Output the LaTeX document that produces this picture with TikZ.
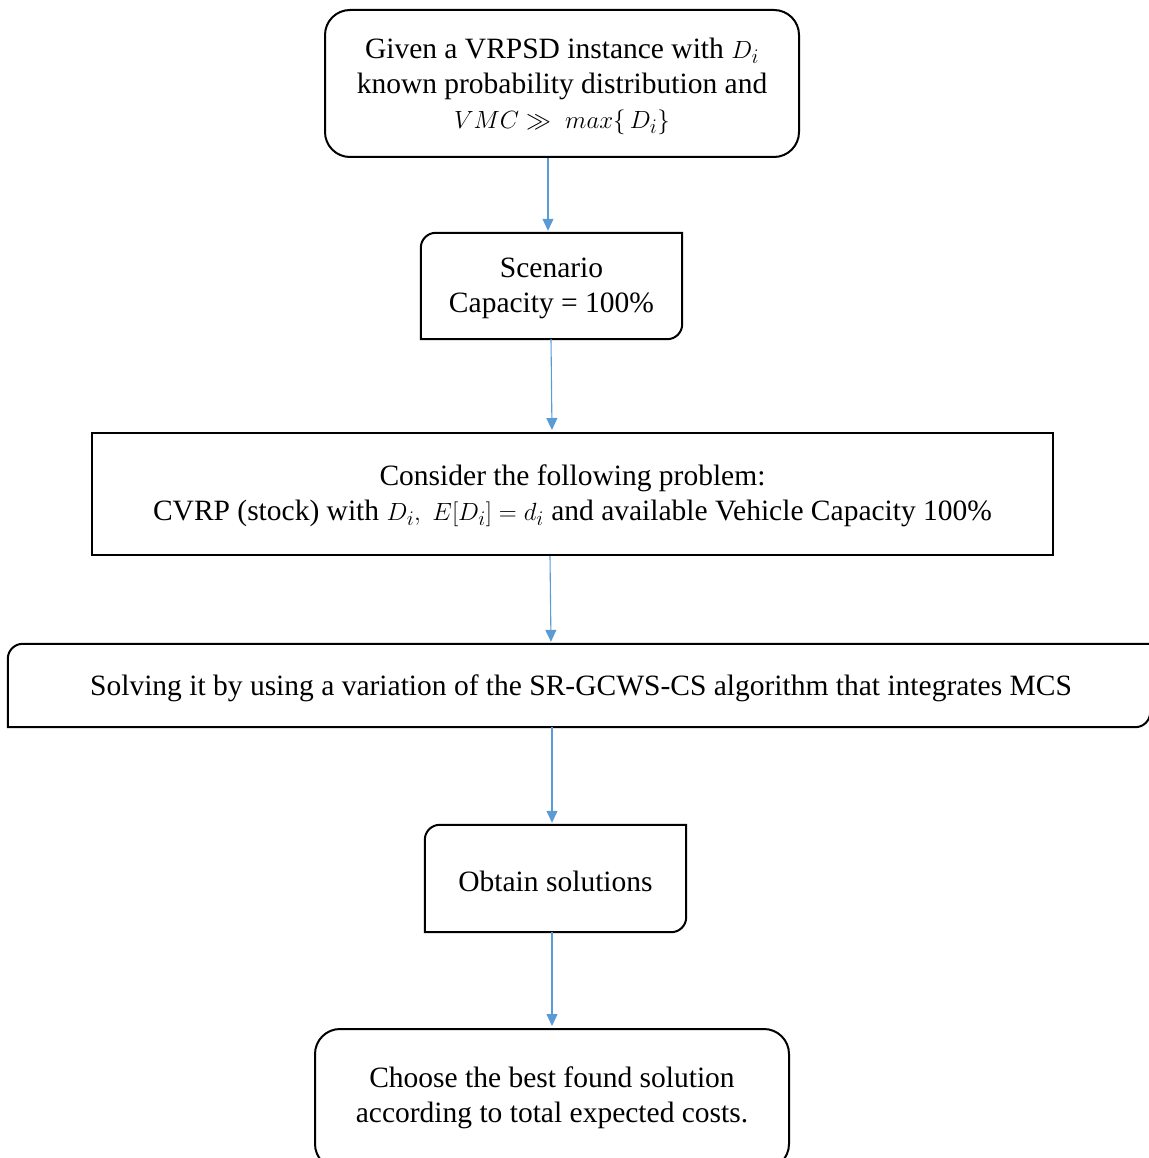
\documentclass[tikz,border=0pt]{standalone}
\usepackage{fontspec}
\setmainfont{Liberation Serif}
\usetikzlibrary{arrows.meta}
\definecolor{flowblue}{HTML}{5B9BD5}

% corner radii
\newcommand{\bigR}{25pt}

\tikzset{
  flowtext/.style={inner sep=0pt, align=center, draw=none,
    font=\fontsize{29.5}{35}\selectfont},
  boxline/.style={line width=2pt, black},
  flowarrow/.style={flowblue, line width=1.1pt,
    -{Triangle[length=12pt,width=11pt]}, shorten >=2pt},
}

% box with the top-left and bottom-right corners rounded
\newcommand{\diagroundbox}[1]{%
  \draw[boxline]
    ([xshift=15pt]#1.north west) -- (#1.north east)
    -- ([yshift=15pt]#1.south east)
    .. controls ([yshift=6.7pt]#1.south east) and ([xshift=-6.7pt]#1.south east) ..
    ([xshift=-15pt]#1.south east)
    -- (#1.south west)
    -- ([yshift=-15pt]#1.north west)
    .. controls ([yshift=-6.7pt]#1.north west) and ([xshift=6.7pt]#1.north west) ..
    cycle;}

\begin{document}
\begin{tikzpicture}[x=1pt,y=-1pt]
  \useasboundingbox (0,0) rectangle (1148,1158);

  % start
  \node[flowtext, minimum width=474pt, minimum height=147pt,
        draw, boxline, rounded corners=\bigR] (given) at (562,83.5) {};
  \node[flowtext] (giventxt) at (562,86)
    {Given a VRPSD instance with $D_i$\\ known probability distribution and\\
     $VMC \gg\ max\{\,D_i\}$};

  % scenario
  \node[flowtext, minimum width=261pt, minimum height=106pt] (scen) at (551.5,286) {};
  \diagroundbox{scen}
  \node[flowtext] (scentxt) at (551.5,288) {Scenario\\ Capacity = 100\%};

  % problem statement
  \node[flowtext, minimum width=961pt, minimum height=122pt,
        draw, boxline] (cons) at (572.5,494) {};
  \node[flowtext] (constxt) at (572.5,496)
    {Consider the following problem:\\
     CVRP (stock) with $D_i,\ E[D_i] = d_i$ and available Vehicle Capacity 100\%};

  % solving step
  \node[flowtext, minimum width=1142pt, minimum height=83pt] (solve) at (579,685.5) {};
  \diagroundbox{solve}
  \node[flowtext] (solvetxt) at (581,688)
    {Solving it by using a variation of the SR-GCWS-CS algorithm that integrates MCS};

  % solutions
  \node[flowtext, minimum width=261pt, minimum height=107pt] (obt) at (555.5,878.5) {};
  \diagroundbox{obt}
  \node[flowtext] (obttxt) at (555.5,881) {Obtain solutions};

  % final choice
  \node[flowtext, minimum width=474pt, minimum height=140pt,
        draw, boxline, rounded corners=\bigR] (choose) at (552,1099) {};
  \node[flowtext] (choosetxt) at (552,1098)
    {Choose the best found solution\\ according to total expected costs.};

  % connectors
  \draw[flowarrow] ([xshift=-14pt]given.south) -- ([xshift=-3.5pt]scen.north);
  \draw[flowarrow] ([xshift=-0.5pt]scen.south) -- ([xshift=-20.5pt]cons.north);
  \draw[flowarrow] ([xshift=-22.5pt]cons.south) -- ([xshift=-28pt]solve.north);
  \draw[flowarrow] ([xshift=-27pt]solve.south) -- ([xshift=-3.5pt]obt.north);
  \draw[flowarrow] ([xshift=-3.5pt]obt.south) -- (choose.north);
\end{tikzpicture}
\end{document}
